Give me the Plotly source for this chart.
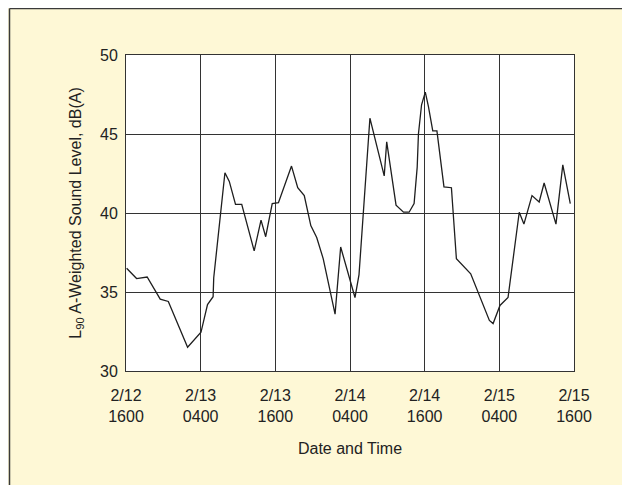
import plotly.graph_objects as go

# hours since 2/12 1600
hours = [0.1, 1.7, 3.4, 5.5, 6.8, 9.9, 12.05, 13.1, 14.0, 14.1, 15.9, 16.6, 17.6, 18.6,
         20.6, 21.7, 22.45, 23.5, 24.5, 26.6, 27.6, 28.65, 29.7, 30.65, 31.7, 33.6,
         34.5, 36.8, 37.45, 39.2, 41.5, 41.9, 43.4, 44.6, 45.5, 46.3, 46.8, 47.0, 47.5,
         48.1, 48.6, 49.3, 49.97, 51.1, 52.3, 53.1, 55.4, 58.4, 59.0, 60.1, 61.4, 63.2,
         63.95, 65.25, 66.4, 67.2, 69.1, 70.2, 71.4]
level = [36.5, 35.85, 35.95, 34.55, 34.4, 31.5, 32.45, 34.2, 34.7, 35.9, 42.55, 42.0,
         40.55, 40.55, 37.6, 39.55, 38.5, 40.6, 40.65, 42.97, 41.6, 41.1, 39.2, 38.45,
         37.1, 33.6, 37.85, 34.65, 36.1, 46.0, 42.35, 44.5, 40.5, 40.05, 40.05, 40.6,
         42.9, 45.0, 46.85, 47.65, 46.75, 45.2, 45.2, 41.65, 41.6, 37.1, 36.15, 33.2,
         33.0, 34.15, 34.65, 40.05, 39.3, 41.1, 40.7, 41.9, 39.3, 43.05, 40.6]

tick_hours = [0, 12, 24, 36, 48, 60, 72]
tick_labels = ["2/12<br>1600", "2/13<br>0400", "2/13<br>1600", "2/14<br>0400",
               "2/14<br>1600", "2/15<br>0400", "2/15<br>1600"]
y_ticks = [30, 35, 40, 45, 50]

W, H = 640, 477
ML, MR, MT, MB = 118, 74, 47, 114
PW, PH = W - ML - MR, H - MT - MB

font = "Liberation Sans, Arial, sans-serif"

fig = go.Figure()
fig.add_trace(go.Scatter(x=hours, y=level, mode="lines",
                         line=dict(color="#1e1e1e", width=1.3), showlegend=False))

# outer frame: left and top edges
x_left = (1.5 - ML) / PW
y_top = (H - MB - 0.5) / PH
frame = dict(color="#3a3a3a", width=1.5)
fig.add_shape(type="line", xref="paper", yref="paper", layer="below",
              x0=x_left, x1=x_left, y0=-MB / PH, y1=y_top, line=frame)
fig.add_shape(type="line", xref="paper", yref="paper", layer="below",
              x0=x_left, x1=(W - ML) / PW, y0=y_top, y1=y_top, line=frame)

fig.update_layout(
    width=W, height=H,
    margin=dict(l=ML, r=MR, t=MT, b=MB),
    paper_bgcolor="#FEF8D6", plot_bgcolor="white",
    font=dict(family=font, size=16, color="#222222"),
)
fig.update_xaxes(range=[0, 72], tickvals=tick_hours, ticktext=tick_labels,
                 showgrid=True, gridcolor="#333333", gridwidth=1,
                 showline=True, linecolor="#333333", linewidth=1, mirror=True,
                 zeroline=False, ticks="", ticklabelstandoff=10,
                 tickfont=dict(size=16),
                 title=dict(text="Date and Time", font=dict(size=16), standoff=18))
fig.update_yaxes(range=[30, 50], tickvals=y_ticks,
                 showgrid=True, gridcolor="#333333", gridwidth=1,
                 showline=True, linecolor="#333333", linewidth=1, mirror=True,
                 zeroline=False, ticks="", ticklabelstandoff=4,
                 tickfont=dict(size=16),
                 title=dict(text="L<sub>90</sub> A-Weighted Sound Level, dB(A)",
                            font=dict(size=16), standoff=14))

fig.write_html("out.html",
               post_script="document.documentElement.style.overflow='hidden';"
                           "document.body.style.overflow='hidden';")
